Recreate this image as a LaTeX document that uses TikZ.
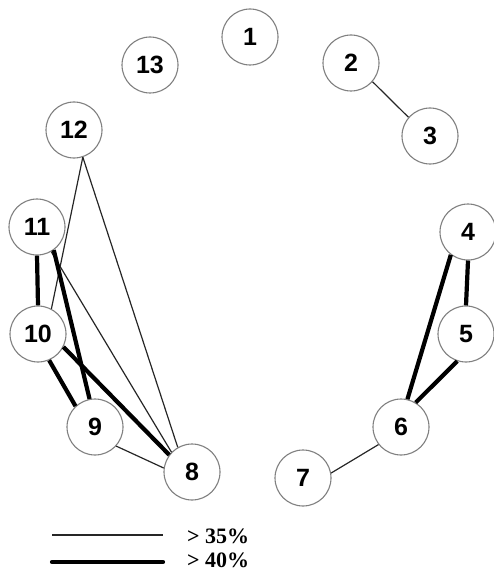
\documentclass[tikz,border=0pt]{standalone}
\usepackage{fontspec}
\setmainfont{Liberation Serif}
\newfontfamily\nodefont{Liberation Sans}
\begin{document}
\begin{tikzpicture}[x=1pt,y=-1pt,
  vtx/.style={circle,draw=black!50,line width=1.1pt,minimum size=56pt,inner sep=0pt,fill=white,font=\nodefont\bfseries\fontsize{25}{25}\selectfont},
  thin/.style={line width=1.2pt,black!85},
  thick/.style={line width=4.2pt,black},
  legtext/.style={anchor=base west,inner sep=0pt,font=\bfseries\fontsize{22}{22}\selectfont}]
\useasboundingbox (0,0) rectangle (493,572);
\node[vtx] (n1) at (250,37) {1};
\node[vtx] (n2) at (351,63) {2};
\node[vtx] (n3) at (430,136) {3};
\node[vtx] (n4) at (468,232) {4};
\node[vtx] (n5) at (466,334) {5};
\node[vtx] (n6) at (401,427) {6};
\node[vtx] (n7) at (303,478) {7};
\node[vtx] (n8) at (192,472) {8};
\node[vtx] (n9) at (95,427) {9};
\node[vtx] (n10) at (38,334) {10};
\node[vtx] (n11) at (37,227) {11};
\node[vtx] (n12) at (74,130) {12};
\node[vtx] (n13) at (150,65) {13};
% thin edges
\draw[thin] (n2.-41) -- (n3.139);
\draw[thin] (n12.-72) -- (n10.62);
\draw[thin] (n12.-72) -- (n8.120);
\draw[thin] (n11.-60) -- (n8.136);
\draw[thin] (n9.-42) -- (n8.172);
\draw[thin] (n6.-142) -- (n7.10);
% thick edges
\draw[thick] (n11.south) -- (n10.north);
\draw[thick] (n11.-54) -- (n9.101);
\draw[thick] (n10.-67) -- (n9.133);
\draw[thick] (n10.-27) -- (n8.143);
\draw[thick] (n4.south) -- (n5.north);
\draw[thick] (n4.-127) -- (n6.77);
\draw[thick] (n5.-108) -- (n6.59);
% legend
\coordinate (la1) at (52,535);
\coordinate (lb1) at (163,535);
\coordinate (la2) at (52,562);
\coordinate (lb2) at (163,562);
\draw[thin] (la1) -- (lb1);
\draw[thick,line cap=round] (la2) -- (lb2);
\node[legtext] (t1) at (187,543) {> 35\%};
\node[legtext] (t2) at (187,567) {> 40\%};
\end{tikzpicture}
\end{document}
